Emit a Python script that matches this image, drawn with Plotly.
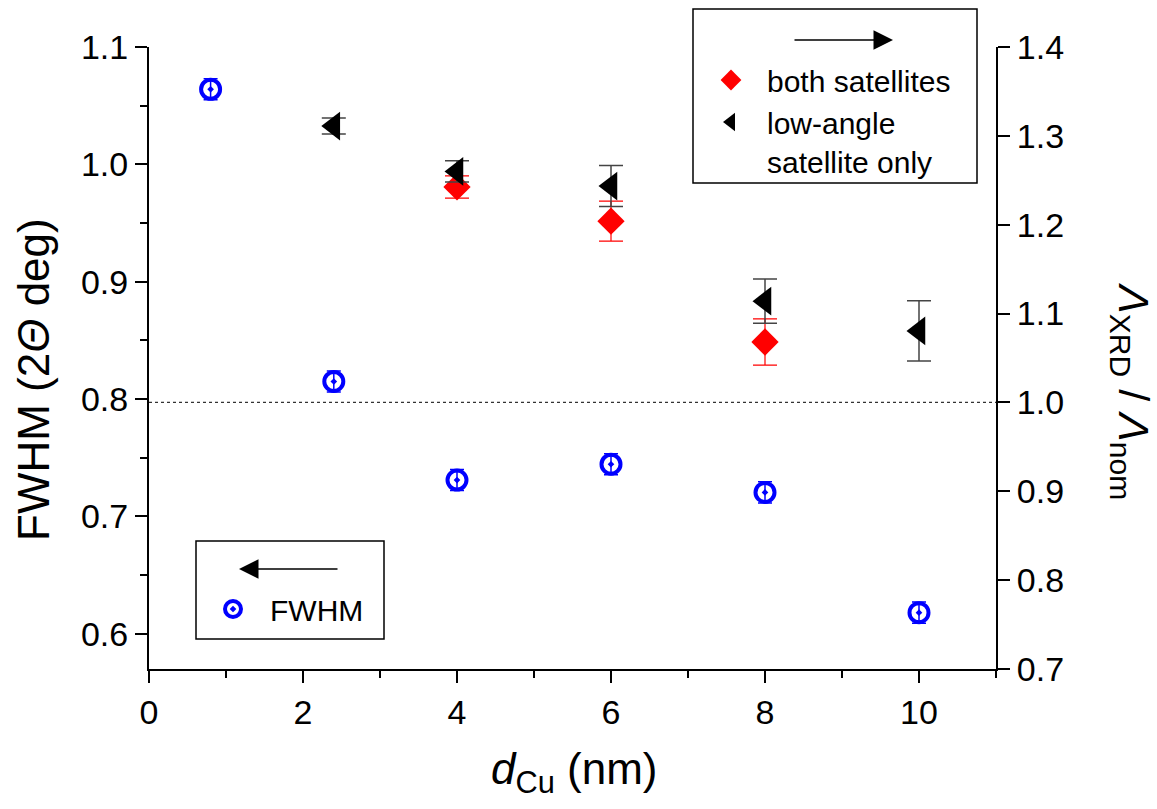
import plotly.graph_objects as go

# ---- data ----
fwhm_x = [0.8, 2.4, 4, 6, 8, 10]
fwhm_y = [1.064, 0.815, 0.731, 0.7445, 0.7205, 0.618]
fwhm_err = [0.009, 0.009, 0.009, 0.009, 0.009, 0.009]

both_x = [4, 6, 8]
both_y = [1.2425, 1.204, 1.068]
both_err = [0.0125, 0.0225, 0.026]

low_x = [2.4, 4, 6, 8, 10]
low_y = [1.311, 1.260, 1.2435, 1.114, 1.0805]
low_err = [0.009, 0.012, 0.023, 0.025, 0.034]

x_ticks = [0, 2, 4, 6, 8, 10]
ref_level = 1.0

FONT = "Liberation Sans, Arial, sans-serif"

fig = go.Figure()

fig.add_trace(go.Scatter(
    x=fwhm_x, y=fwhm_y, mode="markers", name="FWHM", yaxis="y", legend="legend2",
    marker=dict(symbol="circle-open-dot", size=19, color="#0000FF", line=dict(width=4, color="#0000FF")),
    error_y=dict(type="data", array=fwhm_err, color="#0000FF", thickness=1.5, width=7),
))
fig.add_trace(go.Scatter(
    x=both_x, y=both_y, mode="markers", name="both satellites", yaxis="y2", legend="legend",
    marker=dict(symbol="diamond", size=21, color="#FF0000", line=dict(width=0)),
    error_y=dict(type="data", array=both_err, color="#FF0000", thickness=1.2, width=12),
))
fig.add_trace(go.Scatter(
    x=low_x, y=low_y, mode="markers", name="low-angle<br>satellite only", yaxis="y2", legend="legend",
    marker=dict(symbol="triangle-left", size=25, color="#000000", line=dict(width=0)),
    error_y=dict(type="data", array=low_err, color="#444444", thickness=1.5, width=12),
))

# plot area in px: x 149..996, y 47..669
L, R, T, B = 149, 996, 47, 669
W, H = R - L, B - T
def px(xp):
    return (xp - L) / W
def py(yp):
    return (B - yp) / H

axis_common = dict(showline=True, linewidth=2, linecolor="black", ticks="outside",
                   ticklen=12, tickwidth=2, tickcolor="black", showgrid=False, zeroline=False,
                   tickfont=dict(family=FONT, size=34, color="black"))

fig.update_layout(
    width=1157, height=809,
    margin=dict(l=L, r=1157 - R, t=T, b=809 - B),
    paper_bgcolor="white", plot_bgcolor="white",
    xaxis=dict(range=[0, 11], tickvals=x_ticks, minor=dict(dtick=1, tick0=0, ticks="outside", ticklen=7, tickwidth=2, tickcolor="black"),
               **axis_common),
    yaxis=dict(range=[0.57, 1.1], dtick=0.1, tick0=0.6, tickformat=".1f",
               minor=dict(dtick=0.05, tick0=0.6, ticks="outside", ticklen=7, tickwidth=2, tickcolor="black"),
               **axis_common),
    yaxis2=dict(range=[0.7, 1.4], dtick=0.1, tick0=0.7, tickformat=".1f", overlaying="y", side="right",
                **axis_common),
    legend=dict(x=px(695), y=py(54), xanchor="left", yanchor="top", bgcolor="rgba(0,0,0,0)",
                borderwidth=0, font=dict(family=FONT, size=30, color="black"), itemwidth=62, valign="top",
                tracegroupgap=0),
    legend2=dict(x=px(196), y=py(583), xanchor="left", yanchor="top", bgcolor="rgba(0,0,0,0)",
                 borderwidth=0, font=dict(family=FONT, size=30, color="black"), itemwidth=64),
    showlegend=True,
)

# legend boxes
fig.add_shape(type="rect", xref="paper", yref="paper", x0=px(693), x1=px(977), y0=py(183), y1=py(9),
              line=dict(color="black", width=1.5), fillcolor="rgba(0,0,0,0)")
fig.add_shape(type="rect", xref="paper", yref="paper", x0=px(196), x1=px(384), y0=py(639), y1=py(541),
              line=dict(color="black", width=1.5), fillcolor="rgba(0,0,0,0)")

# reference dotted line on right axis
fig.add_shape(type="line", xref="x", yref="y2", x0=0, x1=11, y0=ref_level, y1=ref_level,
              line=dict(color="#333333", width=1.2, dash="dot"))

# arrows in legend boxes
fig.add_annotation(xref="paper", yref="paper", x=px(893), y=py(40), ax=-100, ay=0, text="",
                   showarrow=True, arrowhead=2, arrowsize=2.6, arrowwidth=1.5, arrowcolor="black")
fig.add_annotation(xref="paper", yref="paper", x=px(239), y=py(569), ax=100, ay=0, text="",
                   showarrow=True, arrowhead=2, arrowsize=2.6, arrowwidth=1.5, arrowcolor="black")

# axis titles
fig.add_annotation(xref="paper", yref="paper", x=px(574), y=py(772), xanchor="center", yanchor="middle",
                   text="<i>d</i><sub>Cu</sub> (nm)",
                   showarrow=False, font=dict(family=FONT, size=44, color="black"))
fig.add_annotation(xref="paper", yref="paper", x=px(33), y=py(380), xanchor="center", yanchor="middle",
                   text="FWHM (2<i>Θ</i> deg)",
                   textangle=-90, showarrow=False, font=dict(family=FONT, size=44, color="black"))
fig.add_annotation(xref="paper", yref="paper", x=px(1131), y=py(391), xanchor="center", yanchor="middle",
                   text="<i>Λ</i><sub>XRD</sub> / <i>Λ</i><sub>nom</sub>",
                   textangle=90, showarrow=False, font=dict(family=FONT, size=43, color="black"))

fig.write_html("out.html")
